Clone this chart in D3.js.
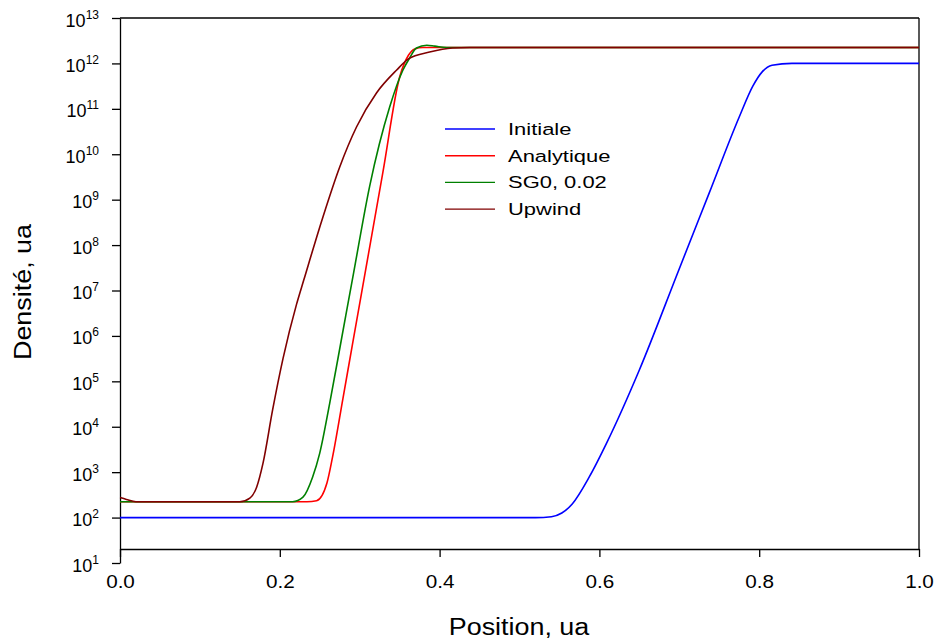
<!DOCTYPE html>
<html>
<head>
<meta charset="utf-8">
<script src="https://cdn.jsdelivr.net/npm/d3@7"></script>
<style>
  body { margin: 0; background: #fff; }
  text { font-family: "Liberation Sans", Arial, sans-serif; fill: #000; }
</style>
</head>
<body>
<div id="chart"></div>
<script>
// x positions and log10(density)
const initX   = [0, 0.52, 0.54, 0.553, 0.566, 0.5875, 0.609, 0.65, 0.70, 0.7375, 0.775, 0.792, 0.804, 0.816, 0.841, 1.0];
const initLog = [2, 2.0, 2.02, 2.10, 2.30, 2.90, 3.64, 5.25, 7.48, 9.15, 10.82, 11.50, 11.82, 11.96, 12.0, 12.0];

const anaX   = [0, 0.234, 0.246, 0.259, 0.266, 0.279, 0.291, 0.3075, 0.329, 0.35, 0.361, 0.369, 0.379, 1.0];
const anaLog = [2.35, 2.35, 2.37, 2.76, 3.33, 4.62, 5.82, 7.46, 9.60, 11.70, 12.18, 12.32, 12.35, 12.35];

const sgX   = [0, 0.216, 0.229, 0.241, 0.25, 0.2625, 0.2775, 0.2925, 0.3125, 0.3375, 0.354, 0.3625, 0.371, 0.384, 0.394, 0.409, 1.0];
const sgLog = [2.35, 2.35, 2.45, 2.89, 3.42, 4.52, 5.96, 7.40, 9.30, 11.04, 11.85, 12.12, 12.34, 12.40, 12.38, 12.35, 12.35];

const upX   = [0, 0.008, 0.02, 0.15, 0.1625, 0.171, 0.179, 0.191, 0.204, 0.221, 0.23, 0.254, 0.275, 0.296, 0.321, 0.346, 0.361, 0.3875, 0.416, 0.4375, 1.0];
const upLog = [2.44, 2.40, 2.35, 2.35, 2.43, 2.67, 3.20, 4.37, 5.50, 6.70, 7.23, 8.62, 9.72, 10.60, 11.35, 11.85, 12.10, 12.25, 12.34, 12.35, 12.35];

const seriesNames = ["Initiale", "Analytique", "SG0, 0.02", "Upwind"];
const seriesColors = ["#0000ff", "#ff0000", "#008000", "#800000"];
const xTicks = [0, 0.2, 0.4, 0.6, 0.8, 1.0];
const yExponents = [1, 2, 3, 4, 5, 6, 7, 8, 9, 10, 11, 12, 13];

const width = 939, height = 644;
const plotLeft = 120, plotRight = 919, plotTop = 18, frameBottom = 549, yBottom = 563;

const svg = d3.select("#chart").append("svg")
    .attr("width", width)
    .attr("height", height);

const x = d3.scaleLinear().domain([0, 1]).range([plotLeft, plotRight]);
const y = d3.scaleLog().domain([10, 1e13]).range([yBottom, plotTop]);

// frame top and right
svg.append("line")
    .attr("x1", plotLeft).attr("x2", plotRight).attr("y1", plotTop).attr("y2", plotTop)
    .attr("stroke", "#000").attr("stroke-width", 1.3);
svg.append("line")
    .attr("x1", plotRight).attr("x2", plotRight).attr("y1", plotTop).attr("y2", frameBottom)
    .attr("stroke", "#000").attr("stroke-width", 1.3);

// X axis (at the frame bottom)
const xAxis = svg.append("g")
    .attr("transform", "translate(0," + frameBottom + ")")
    .call(d3.axisBottom(x).tickValues(xTicks).tickFormat(d3.format(".1f")).tickSize(8).tickSizeOuter(0).tickPadding(18));
xAxis.select(".domain").attr("stroke-width", 1.3);
xAxis.selectAll(".tick line").attr("stroke-width", 1.3);
xAxis.selectAll(".tick text")
    .attr("font-size", 18)
    .attr("font-family", "Liberation Sans, Arial, sans-serif")
    .attr("transform", "scale(1.15,1)");

// Y axis, goes below the frame down to 10^1
const yAxis = svg.append("g")
    .attr("transform", "translate(" + plotLeft + ",0)")
    .call(d3.axisLeft(y).tickValues(yExponents.map(e => Math.pow(10, e))).tickFormat("").tickSize(8).tickSizeOuter(0));
yAxis.select(".domain").attr("stroke-width", 1.3);
yAxis.selectAll(".tick line").attr("stroke-width", 1.3);
yAxis.selectAll(".tick").each(function (d) {
    const t = d3.select(this).append("text")
        .attr("x", -21)
        .attr("y", 8)
        .attr("text-anchor", "end")
        .attr("font-size", 18)
        .attr("fill", "#000");
    t.append("tspan").text("10");
    t.append("tspan").attr("font-size", 12).attr("dy", -8).text(Math.round(Math.log10(d)));
});

// curves
const line = d3.line()
    .x(d => x(d[0]))
    .y(d => y(Math.pow(10, d[1])))
    .curve(d3.curveMonotoneX);

const series = [
    d3.zip(initX, initLog),
    d3.zip(anaX, anaLog),
    d3.zip(sgX, sgLog),
    d3.zip(upX, upLog)
];

svg.append("g").selectAll("path")
    .data(series)
    .join("path")
    .attr("fill", "none")
    .attr("stroke", (d, i) => seriesColors[i])
    .attr("stroke-width", 1.6)
    .attr("d", line);

// legend
const legend = svg.selectAll(".legend")
    .data(seriesNames)
    .enter().append("g")
    .attr("class", "legend")
    .attr("transform", (d, i) => "translate(445," + (129 + i * 26.7) + ")");

legend.append("line")
    .attr("x1", 0).attr("x2", 50)
    .attr("stroke", (d, i) => seriesColors[i])
    .attr("stroke-width", 1.4);

legend.append("text")
    .attr("transform", "translate(63,6) scale(1.33,1)")
    .attr("font-size", 16.5)
    .text(d => d);

// axis titles
svg.append("text")
    .attr("transform", "translate(519,635) scale(1.17,1)")
    .attr("text-anchor", "middle")
    .attr("font-size", 23)
    .text("Position, ua");

svg.append("text")
    .attr("transform", "translate(31,292) rotate(-90) scale(1.17,1)")
    .attr("text-anchor", "middle")
    .attr("font-size", 23)
    .text("Densité, ua");
</script>
</body>
</html>
